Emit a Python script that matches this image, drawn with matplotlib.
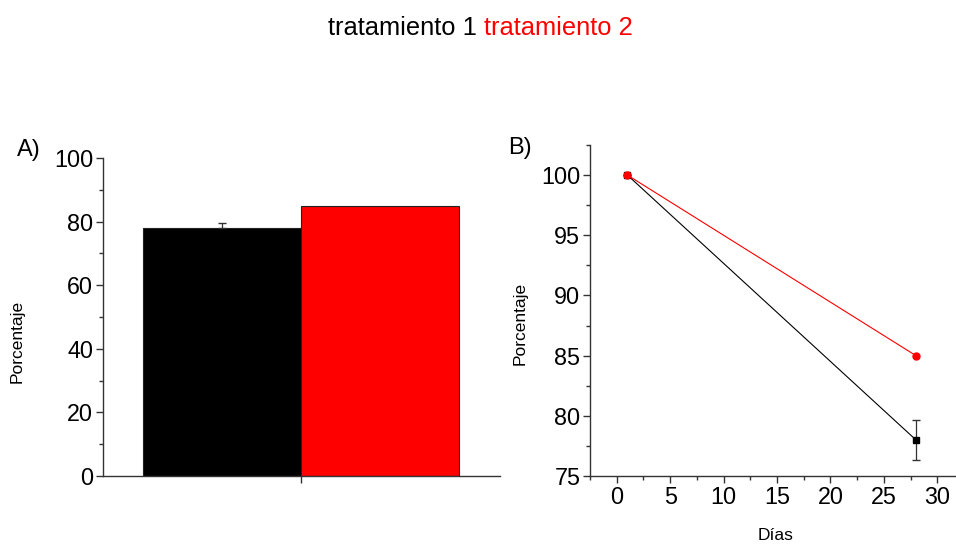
import matplotlib
matplotlib.use("Agg")
import matplotlib.pyplot as plt
from matplotlib.ticker import MultipleLocator

plt.rcParams['font.family'] = ['Liberation Sans', 'DejaVu Sans']

# datos
tratamientos = ["tratamiento 1", "tratamiento 2"]
colores = ["black", "red"]
porcentaje_final = [78.0, 85.0]
error_final = [1.65, 0.0]

dias = [1, 28]
serie_t1 = [100.0, 78.0]
serie_t1_err = [0.0, 1.65]
serie_t2 = [100.0, 85.0]

eje = "#333333"

fig = plt.figure(figsize=(9.56, 5.46), dpi=100)

# panel A: barras
axA = fig.add_axes([0.1077, 0.1282, 0.523 - 0.1077, 0.7106 - 0.1282])
pos = [0, 1]
axA.bar(pos, porcentaje_final, width=1.0, color=colores, edgecolor="#222222",
        linewidth=0.8, zorder=2)
axA.errorbar(pos[0], porcentaje_final[0], yerr=[[0], [error_final[0]]], fmt="none",
             ecolor="#333333", elinewidth=0.9, capsize=3, zorder=3)
axA.set_xlim(-0.753, 1.76)
axA.set_ylim(0, 100)
axA.set_xticks([0.5])
axA.set_xticklabels([""])
axA.yaxis.set_major_locator(MultipleLocator(20))
axA.yaxis.set_minor_locator(MultipleLocator(10))

# panel B: lineas
axB = fig.add_axes([0.6172, 0.1282, 1.0 - 0.6172, 0.7344 - 0.1282])
axB.plot(dias, serie_t1, color="black", linewidth=0.8, marker="s", markersize=5, zorder=3)
axB.errorbar(dias, serie_t1, yerr=serie_t1_err, fmt="none", ecolor="#333333",
             elinewidth=0.9, capsize=3, zorder=2)
axB.plot(dias, serie_t2, color="red", linewidth=0.8, marker="o", markersize=5, zorder=4)
axB.set_xlim(-2.5, 31.75)
axB.set_ylim(75, 102.5)
axB.xaxis.set_major_locator(MultipleLocator(5))
axB.xaxis.set_minor_locator(MultipleLocator(2.5))
axB.yaxis.set_major_locator(MultipleLocator(5))
axB.yaxis.set_minor_locator(MultipleLocator(2.5))

for ax in (axA, axB):
    for s in ("top", "right"):
        ax.spines[s].set_visible(False)
    for s in ("left", "bottom"):
        ax.spines[s].set_color(eje)
        ax.spines[s].set_linewidth(1.0)
    ax.tick_params(which="major", direction="out", length=5, width=1.0,
                   color=eje, labelsize=16.8, pad=2)
    ax.tick_params(which="minor", direction="out", length=3, width=1.0, color=eje)

# etiquetas
fig.text(17 / 956, 1 - 341 / 546, "Porcentaje", rotation=90, ha="center",
         va="center", fontsize=12.5)
fig.text(520 / 956, 1 - 323 / 546, "Porcentaje", rotation=90, ha="center",
         va="center", fontsize=12.5)
fig.text(776 / 956, 1 - 535 / 546, "Días", ha="center", va="center", fontsize=12.5)
fig.text(29 / 956, 1 - 150 / 546, "A)", ha="center", va="center", fontsize=17)
fig.text(520 / 956, 1 - 148 / 546, "B)", ha="center", va="center", fontsize=17)

# titulo en dos colores
fig.text(477 / 956, 1 - 28 / 546, tratamientos[0], color=colores[0], ha="right",
         va="center", fontsize=18.4)
fig.text(484 / 956, 1 - 28 / 546, tratamientos[1], color=colores[1], ha="left",
         va="center", fontsize=18.4)

fig.savefig("out.png", dpi=100)
